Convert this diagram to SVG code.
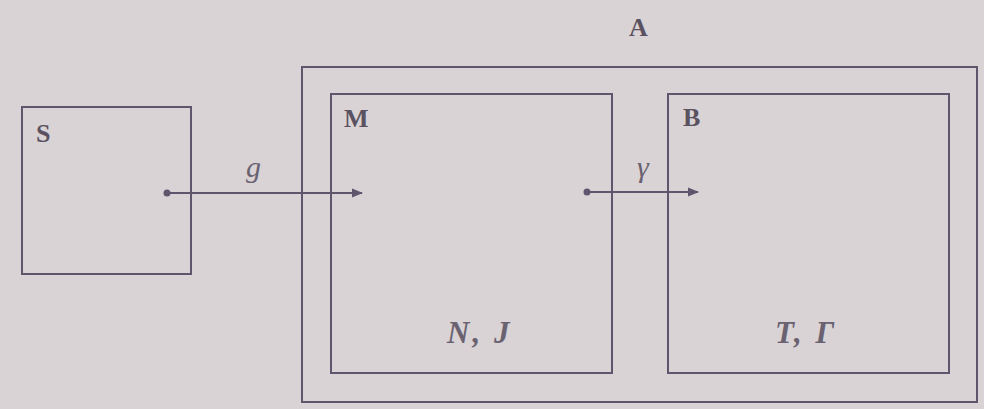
<svg xmlns="http://www.w3.org/2000/svg" width="984" height="409" viewBox="0 0 984 409">
  <style>
    .box { fill: none; stroke: #5f566e; stroke-width: 2; }
    .wire { stroke: #5f566e; stroke-width: 2; fill: none; }
    .name { font-family: "Liberation Serif", serif; font-weight: bold; font-size: 26px; fill: #5a5260; }
    .sym { font-family: "Liberation Serif", serif; font-style: italic; font-size: 30px; fill: #6a6270; }
    .pair { font-family: "Liberation Serif", serif; font-style: italic; font-weight: bold; font-size: 31px; letter-spacing: 3px; fill: #6a6270; }
  </style>
  <defs>
    <marker id="head" markerWidth="12" markerHeight="12" refX="10" refY="6" orient="auto" markerUnits="userSpaceOnUse">
      <path d="M0,1.5 L11,6 L0,10.5 Z" fill="#5f566e"/>
    </marker>
    <marker id="dot" markerWidth="8" markerHeight="8" refX="4" refY="4" markerUnits="userSpaceOnUse">
      <circle cx="4" cy="4" r="3.5" fill="#5f566e"/>
    </marker>
  </defs>
  <rect width="984" height="409" fill="#d9d3d6"/>

  <g id="S">
    <rect class="box" x="22" y="107" width="169" height="167"/>
    <text class="name" x="36" y="142">S</text>
  </g>

  <g id="A">
    <rect class="box" x="302" y="67" width="675" height="335"/>
    <text class="name" x="629" y="36">A</text>
  </g>

  <g id="M">
    <rect class="box" x="331" y="94" width="281" height="279"/>
    <text class="name" x="344" y="127">M</text>
    <text class="pair" x="447" y="343">N, J</text>
  </g>

  <g id="B">
    <rect class="box" x="668" y="94" width="281" height="279"/>
    <text class="name" x="683" y="126">B</text>
    <text class="pair" x="775" y="343">T, Γ</text>
  </g>

  <g id="connectors">
    <line class="wire" x1="167" y1="193" x2="362" y2="193" marker-start="url(#dot)" marker-end="url(#head)"/>
    <text class="sym" x="246" y="177">g</text>
    <line class="wire" x1="587" y1="192" x2="698" y2="192" marker-start="url(#dot)" marker-end="url(#head)"/>
    <text class="sym" x="637" y="177">γ</text>
  </g>
</svg>
